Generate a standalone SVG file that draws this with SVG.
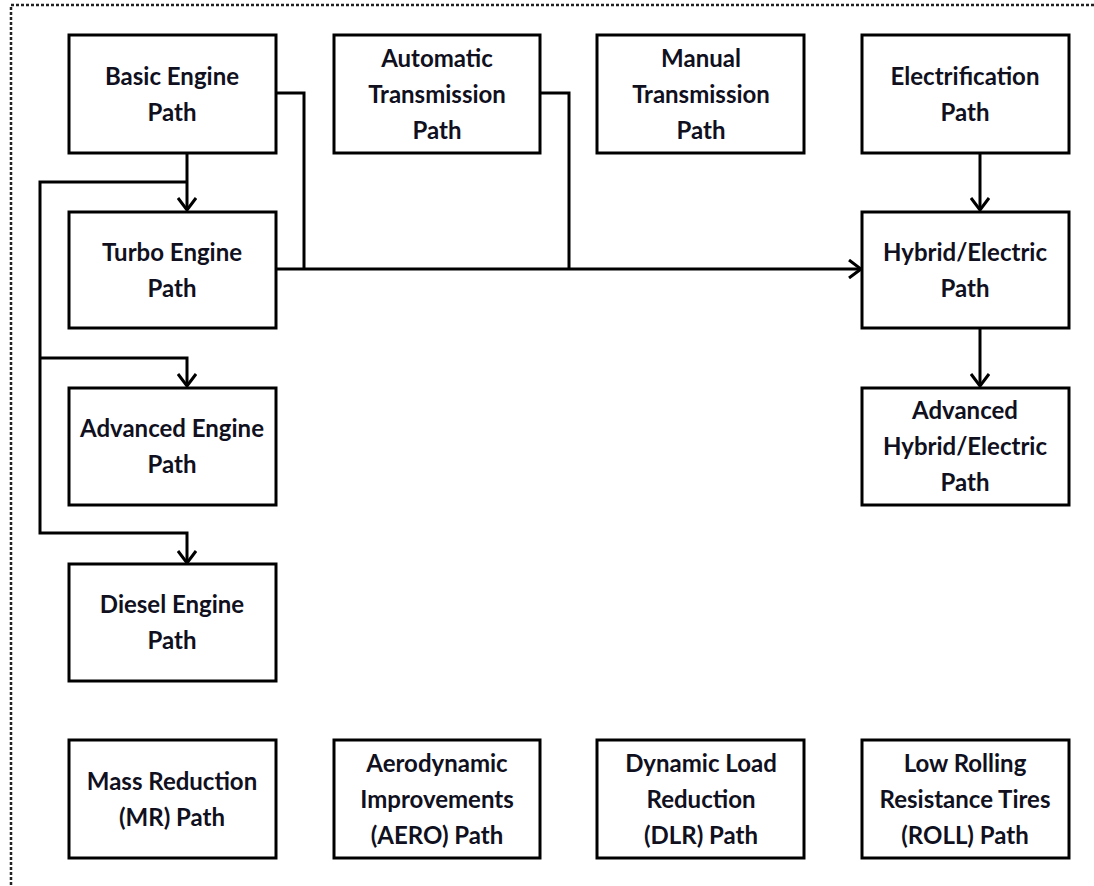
<svg xmlns="http://www.w3.org/2000/svg" width="1094" height="886" viewBox="0 0 1094 886">
<defs>
<style>
.box{fill:#fff;stroke:#000;stroke-width:3}
.t{font-family:Lato,"Liberation Sans",sans-serif;font-weight:bold;font-size:24px;fill:#10101e;text-anchor:middle}
.c{fill:none;stroke:#000;stroke-width:3;stroke-linejoin:miter}
.frame{fill:none;stroke:#222;stroke-width:2.5;stroke-dasharray:3 2}
</style>
<marker id="arr" viewBox="0 0 14 20" refX="13" refY="10" markerWidth="14" markerHeight="20" markerUnits="userSpaceOnUse" orient="auto">
<path d="M1,1 L13,10 L1,19" fill="none" stroke="#000" stroke-width="3"/>
</marker>
</defs>
<rect width="1094" height="886" fill="#fff"/>
<rect class="frame" x="11" y="5" width="1100" height="900"/>
<g id="connectors">
<path class="c" d="M187,154 V210" marker-end="url(#arr)"/>
<path class="c" d="M187,182 H40 V533 H187 V563" marker-end="url(#arr)"/>
<path class="c" d="M40,358 H187 V386" marker-end="url(#arr)"/>
<path class="c" d="M276,93 H304 V269"/>
<path class="c" d="M540,93 H569 V269"/>
<path class="c" d="M276,269 H861" marker-end="url(#arr)"/>
<path class="c" d="M980,154 V210" marker-end="url(#arr)"/>
<path class="c" d="M980,328 V386" marker-end="url(#arr)"/>
</g>
<g id="basic"><rect class="box" x="69" y="35" width="207" height="118"/><text class="t" x="172" y="85">Basic Engine</text><text class="t" x="172" y="121">Path</text></g>
<g id="auto"><rect class="box" x="334" y="35" width="206" height="118"/><text class="t" x="437" y="67">Automatic</text><text class="t" x="437" y="103">Transmission</text><text class="t" x="437" y="139">Path</text></g>
<g id="manual"><rect class="box" x="597" y="35" width="207" height="118"/><text class="t" x="701" y="67">Manual</text><text class="t" x="701" y="103">Transmission</text><text class="t" x="701" y="139">Path</text></g>
<g id="electrification"><rect class="box" x="862" y="35" width="207" height="118"/><text class="t" x="965" y="85">Electrification</text><text class="t" x="965" y="121">Path</text></g>
<g id="turbo"><rect class="box" x="69" y="212" width="207" height="116"/><text class="t" x="172" y="261">Turbo Engine</text><text class="t" x="172" y="297">Path</text></g>
<g id="hybrid"><rect class="box" x="862" y="212" width="207" height="116"/><text class="t" x="965" y="261">Hybrid/Electric</text><text class="t" x="965" y="297">Path</text></g>
<g id="advanced"><rect class="box" x="69" y="388" width="207" height="117"/><text class="t" x="172" y="437">Advanced Engine</text><text class="t" x="172" y="473">Path</text></g>
<g id="advhybrid"><rect class="box" x="862" y="388" width="207" height="117"/><text class="t" x="965" y="419">Advanced</text><text class="t" x="965" y="455">Hybrid/Electric</text><text class="t" x="965" y="491">Path</text></g>
<g id="diesel"><rect class="box" x="69" y="564" width="207" height="117"/><text class="t" x="172" y="613">Diesel Engine</text><text class="t" x="172" y="649">Path</text></g>
<g id="mr"><rect class="box" x="69" y="740" width="207" height="118"/><text class="t" x="172" y="790">Mass Reduction</text><text class="t" x="172" y="826">(MR) Path</text></g>
<g id="aero"><rect class="box" x="334" y="740" width="206" height="118"/><text class="t" x="437" y="772">Aerodynamic</text><text class="t" x="437" y="808">Improvements</text><text class="t" x="437" y="844">(AERO) Path</text></g>
<g id="dlr"><rect class="box" x="597" y="740" width="207" height="118"/><text class="t" x="701" y="772">Dynamic Load</text><text class="t" x="701" y="808">Reduction</text><text class="t" x="701" y="844">(DLR) Path</text></g>
<g id="roll"><rect class="box" x="862" y="740" width="207" height="118"/><text class="t" x="965" y="772">Low Rolling</text><text class="t" x="965" y="808">Resistance Tires</text><text class="t" x="965" y="844">(ROLL) Path</text></g>
</svg>
